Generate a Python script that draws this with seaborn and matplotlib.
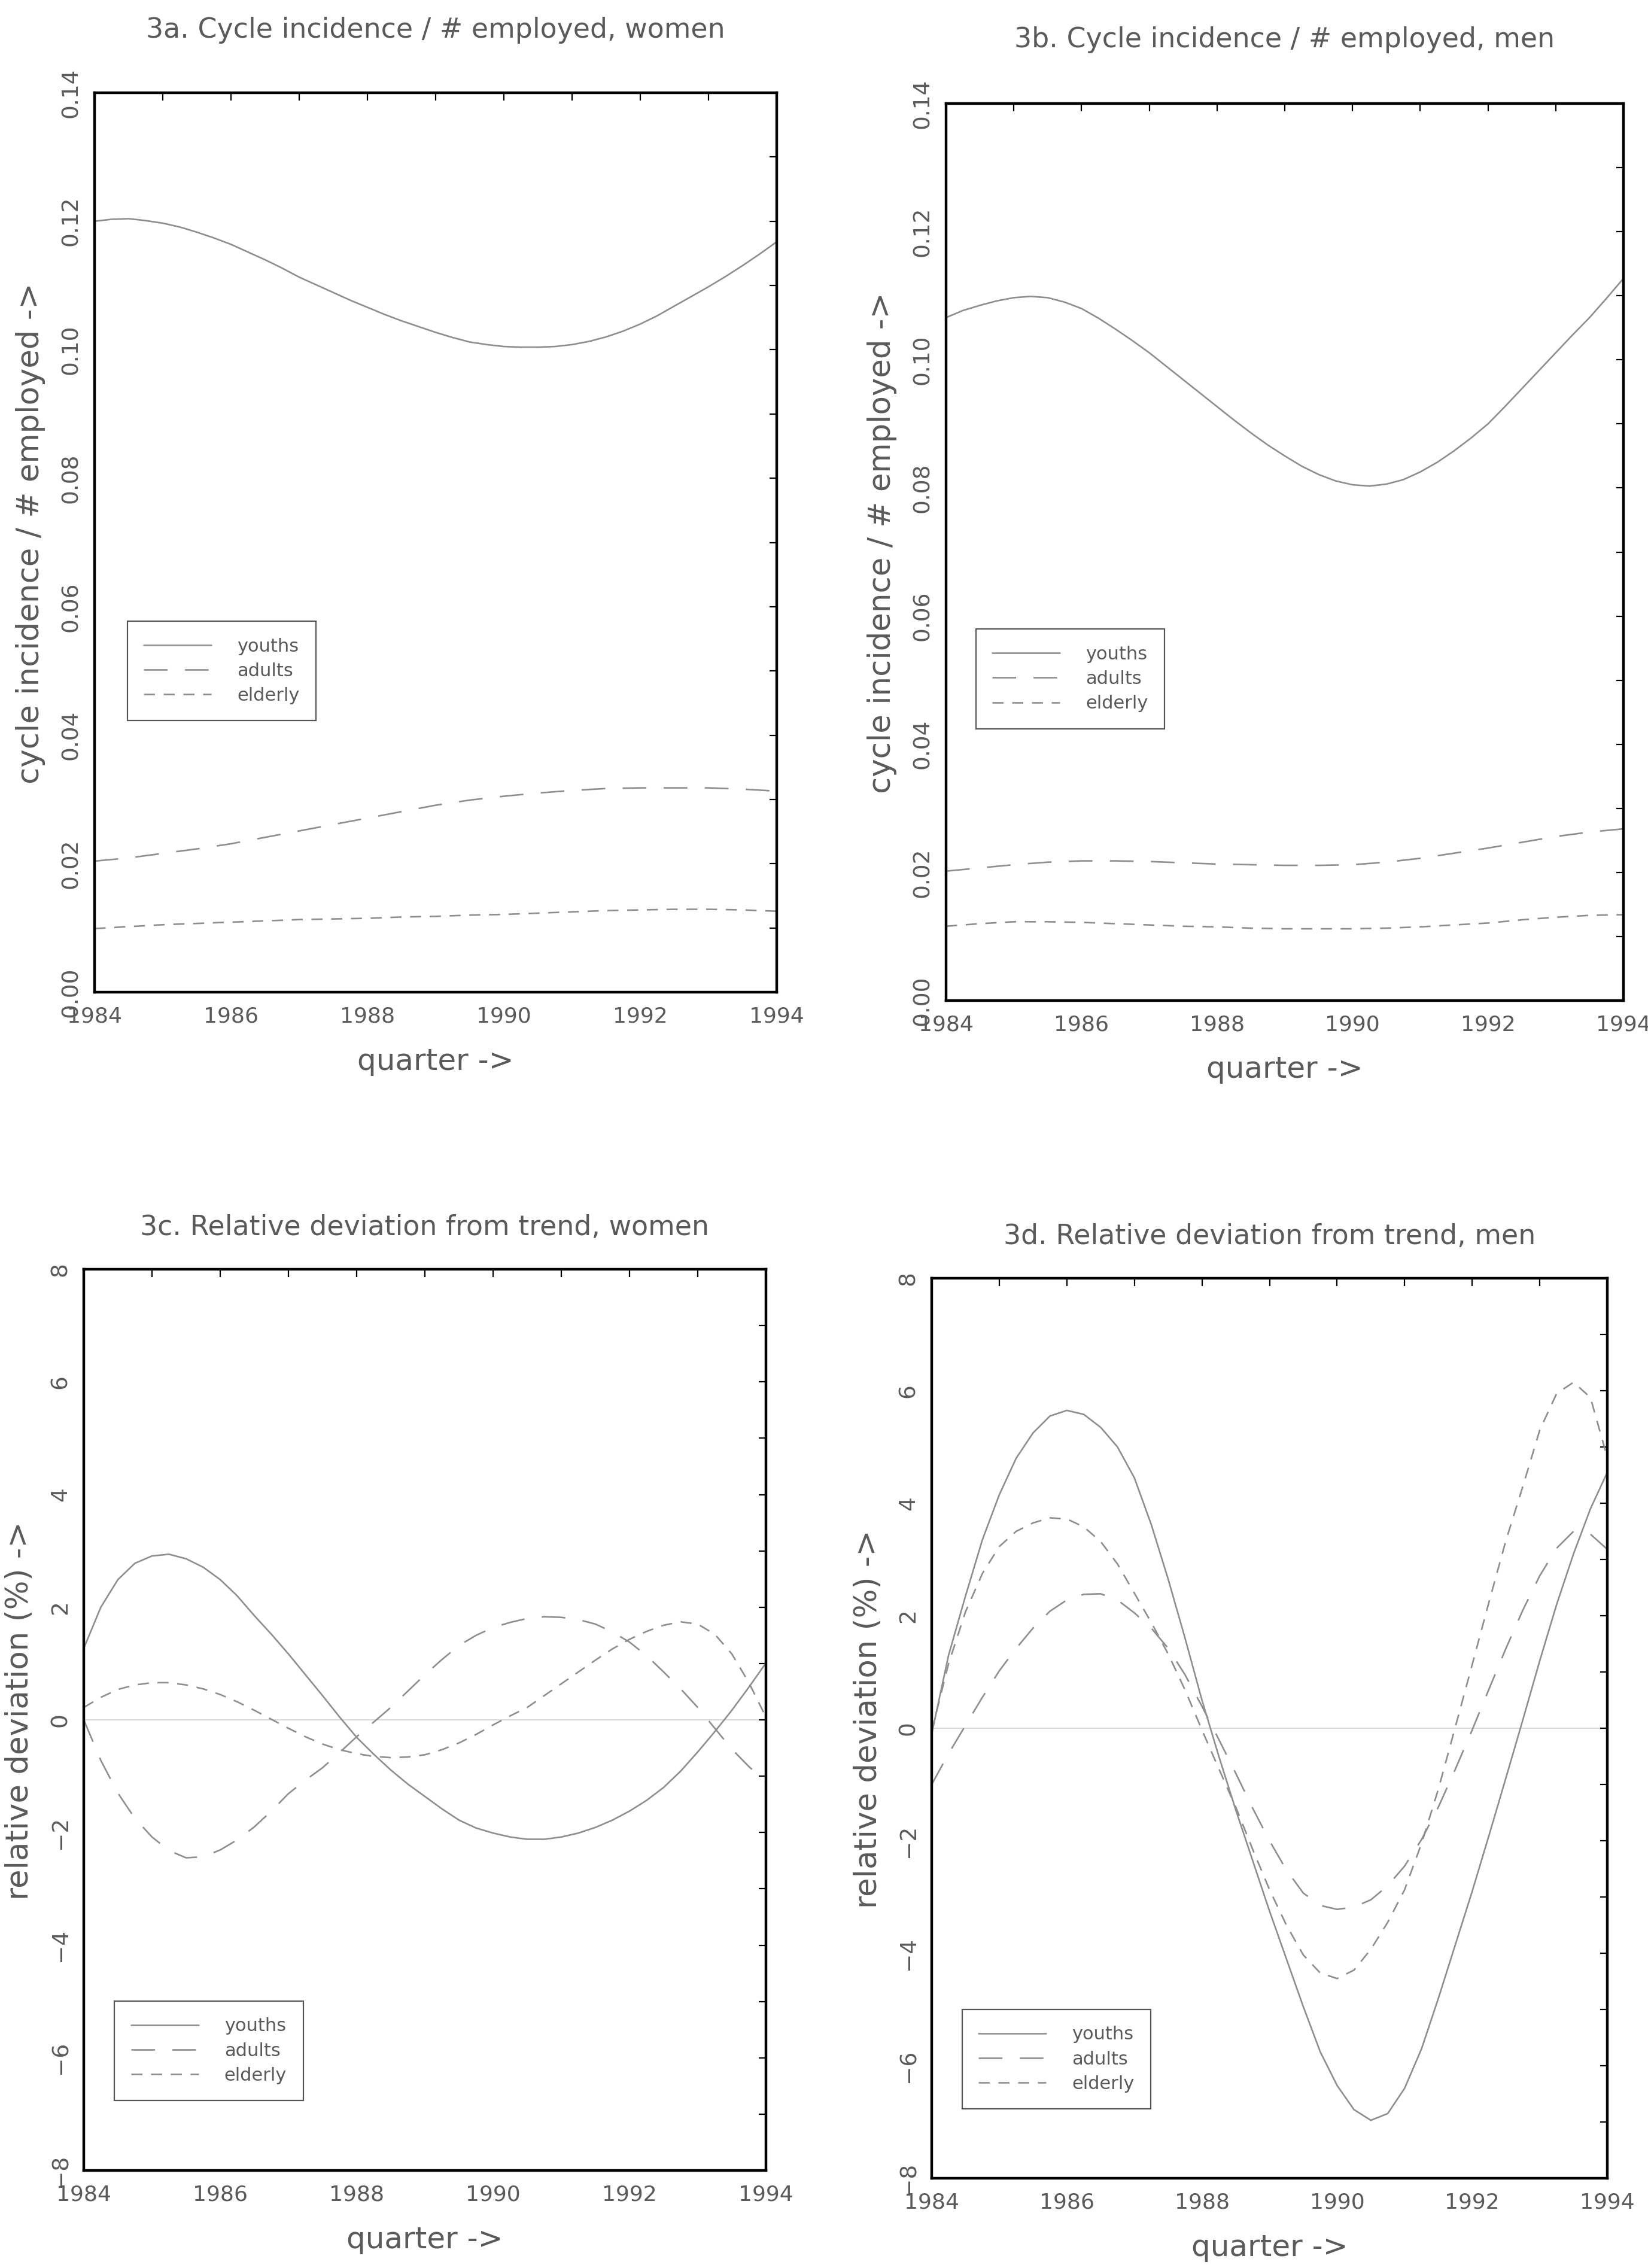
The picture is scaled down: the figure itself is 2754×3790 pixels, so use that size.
import numpy as np
import pandas as pd
import matplotlib
matplotlib.use("Agg")
import matplotlib.pyplot as plt
from matplotlib.ticker import MultipleLocator, FuncFormatter
import seaborn as sns

# ---------------- data ----------------
years_half = [1984.0, 1984.5, 1985.0, 1985.5, 1986.0, 1986.5, 1987.0, 1987.5, 1988.0, 1988.5,
              1989.0, 1989.5, 1990.0, 1990.5, 1991.0, 1991.5, 1992.0, 1992.5, 1993.0, 1993.5, 1994.0]
years_q = [1984.0, 1984.25, 1984.5, 1984.75, 1985.0, 1985.25, 1985.5, 1985.75,
           1986.0, 1986.25, 1986.5, 1986.75, 1987.0, 1987.25, 1987.5, 1987.75,
           1988.0, 1988.25, 1988.5, 1988.75, 1989.0, 1989.25, 1989.5, 1989.75,
           1990.0, 1990.25, 1990.5, 1990.75, 1991.0, 1991.25, 1991.5, 1991.75,
           1992.0, 1992.25, 1992.5, 1992.75, 1993.0, 1993.25, 1993.5, 1993.75, 1994.0]
groups = ["youths", "adults", "elderly"]

x_ticks = [1984, 1986, 1988, 1990, 1992, 1994]
inc_ticks = [0.00, 0.02, 0.04, 0.06, 0.08, 0.10, 0.12, 0.14]
dev_ticks = [-8, -6, -4, -2, 0, 2, 4, 6, 8]

# 3a: cycle incidence / # employed, women
inc_women_youths = [0.1200, 0.1203, 0.1204, 0.1201, 0.1197, 0.1191, 0.1183, 0.1174,
                    0.1164, 0.1152, 0.1140, 0.1127, 0.1113, 0.1101, 0.1089, 0.1077,
                    0.1066, 0.1055, 0.1045, 0.1036, 0.1027, 0.1019, 0.1012, 0.1008,
                    0.1005, 0.1004, 0.1004, 0.1005, 0.1008, 0.1013, 0.1020, 0.1029,
                    0.1040, 0.1053, 0.1068, 0.1083, 0.1098, 0.1114, 0.1131, 0.1149, 0.1168]
inc_women_adults = [0.0204, 0.0209, 0.0216, 0.0223, 0.0231, 0.0241, 0.0251, 0.0261, 0.0271, 0.0281,
                    0.0291, 0.0299, 0.0305, 0.0310, 0.0314, 0.0317, 0.0318, 0.0318, 0.0318, 0.0316, 0.0313]
inc_women_elderly = [0.0099, 0.0102, 0.0105, 0.0107, 0.0109, 0.0111, 0.0113, 0.0114, 0.0115, 0.0117,
                     0.0118, 0.0120, 0.0121, 0.0123, 0.0125, 0.0127, 0.0128, 0.0129, 0.0129, 0.0128, 0.0126]

# 3b: cycle incidence / # employed, men
inc_men_youths = [0.1066, 0.1077, 0.1085, 0.1092, 0.1097, 0.1099, 0.1097, 0.1090,
                  0.1080, 0.1065, 0.1048, 0.1030, 0.1011, 0.0990, 0.0969, 0.0948,
                  0.0927, 0.0906, 0.0886, 0.0867, 0.0850, 0.0834, 0.0821, 0.0811,
                  0.0805, 0.0803, 0.0806, 0.0813, 0.0825, 0.0840, 0.0858, 0.0878,
                  0.0900, 0.0927, 0.0955, 0.0983, 0.1011, 0.1039, 0.1066, 0.1096, 0.1127]
inc_men_adults = [0.0202, 0.0207, 0.0212, 0.0216, 0.0218, 0.0218, 0.0217, 0.0215, 0.0213, 0.0212,
                  0.0211, 0.0211, 0.0212, 0.0216, 0.0222, 0.0230, 0.0238, 0.0247, 0.0256, 0.0263, 0.0268]
inc_men_elderly = [0.0116, 0.0120, 0.0123, 0.0123, 0.0122, 0.0120, 0.0118, 0.0116, 0.0115, 0.0113,
                   0.0112, 0.0112, 0.0112, 0.0113, 0.0115, 0.0118, 0.0121, 0.0126, 0.0130, 0.0133, 0.0134]

# 3c: relative deviation from trend, women (%)
dev_women_youths = [1.27, 2.00, 2.49, 2.78, 2.91, 2.94, 2.86, 2.71,
                    2.49, 2.20, 1.85, 1.52, 1.17, 0.80, 0.43, 0.05,
                    -0.31, -0.61, -0.89, -1.14, -1.36, -1.58, -1.78, -1.92,
                    -2.01, -2.08, -2.12, -2.12, -2.08, -2.01, -1.91, -1.78,
                    -1.62, -1.43, -1.20, -0.91, -0.57, -0.21, 0.17, 0.58, 1.01]
dev_women_adults = [0.00, -0.72, -1.30, -1.75, -2.08, -2.32, -2.45, -2.43,
                    -2.31, -2.13, -1.90, -1.62, -1.31, -1.07, -0.85, -0.58,
                    -0.30, -0.04, 0.22, 0.51, 0.80, 1.07, 1.32, 1.50,
                    1.64, 1.73, 1.80, 1.83, 1.82, 1.78, 1.70, 1.56,
                    1.38, 1.14, 0.85, 0.55, 0.22, -0.15, -0.52, -0.83, -1.10]
dev_women_elderly = [0.22, 0.40, 0.54, 0.62, 0.66, 0.66, 0.62, 0.55,
                     0.45, 0.32, 0.17, 0.01, -0.15, -0.30, -0.43, -0.53,
                     -0.60, -0.65, -0.67, -0.66, -0.62, -0.53, -0.41, -0.26,
                     -0.09, 0.07, 0.22, 0.43, 0.64, 0.85, 1.06, 1.26,
                     1.43, 1.57, 1.68, 1.74, 1.70, 1.52, 1.17, 0.66, 0.05]

# 3d: relative deviation from trend, men (%)
dev_men_youths = [-0.10, 1.30, 2.35, 3.35, 4.15, 4.80, 5.25, 5.55,
                  5.65, 5.58, 5.35, 5.00, 4.45, 3.62, 2.65, 1.60,
                  0.50, -0.50, -1.45, -2.35, -3.25, -4.10, -4.95, -5.75,
                  -6.35, -6.78, -6.97, -6.85, -6.40, -5.70, -4.80, -3.85,
                  -2.90, -1.90, -0.88, 0.15, 1.20, 2.20, 3.10, 3.90, 4.55]
dev_men_adults = [-1.00, -0.45, 0.05, 0.55, 1.02, 1.42, 1.78, 2.08,
                  2.28, 2.38, 2.39, 2.28, 2.05, 1.78, 1.42, 0.95,
                  0.39, -0.20, -0.80, -1.42, -2.00, -2.52, -2.93, -3.15,
                  -3.22, -3.18, -3.05, -2.80, -2.45, -1.98, -1.40, -0.73,
                  -0.03, 0.70, 1.42, 2.10, 2.71, 3.20, 3.50, 3.45, 3.18]
dev_men_elderly = [-0.05, 1.15, 2.07, 2.75, 3.23, 3.50, 3.65, 3.74,
                   3.72, 3.58, 3.32, 2.92, 2.40, 1.88, 1.32, 0.68,
                   -0.03, -0.72, -1.40, -2.15, -2.87, -3.50, -4.03, -4.35,
                   -4.45, -4.30, -3.93, -3.45, -2.87, -2.05, -1.08, 0.02,
                   1.13, 2.25, 3.34, 4.30, 5.30, 5.95, 6.15, 5.88, 4.81]

titles = ["3a. Cycle incidence / # employed, women",
          "3b. Cycle incidence / # employed, men",
          "3c. Relative deviation from trend, women",
          "3d. Relative deviation from trend, men"]
ylabel_inc = "cycle incidence / # employed ->"
ylabel_dev = "relative deviation (%) ->"
xlabel = "quarter ->"

# ---------------- style ----------------
sns.set_theme(style="white")
plt.rcParams["font.family"] = ["DejaVu Sans"]
plt.rcParams["axes.unicode_minus"] = True

LINE = "#8e8e8e"
TEXT = "#5a5a5a"
W, H = 2754, 3790

fig = plt.figure(figsize=(W / 100, H / 100), dpi=100)
fig.patch.set_facecolor("white")

panels = [
    dict(rect=(158, 155, 1298, 1658), title=titles[0], ylabel=ylabel_inc,
         series=((years_q, inc_women_youths), (years_half, inc_women_adults),
                 (years_half, inc_women_elderly)),
         ylim=(0.0, 0.14), ticks=inc_ticks, minor=0.01, fmt=lambda v, p: f"{v:.2f}",
         leg=(0.048, 0.4125), tpad=66, zero=False),
    dict(rect=(1581, 173, 2713, 1672), title=titles[1], ylabel=ylabel_inc,
         series=((years_q, inc_men_youths), (years_half, inc_men_adults),
                 (years_half, inc_men_elderly)),
         ylim=(0.0, 0.14), ticks=inc_ticks, minor=0.01, fmt=lambda v, p: f"{v:.2f}",
         leg=(0.044, 0.414), tpad=68, zero=False),
    dict(rect=(140, 2121, 1280, 3627), title=titles[2], ylabel=ylabel_dev,
         series=((years_q, dev_women_youths), (years_q, dev_women_adults),
                 (years_q, dev_women_elderly)),
         ylim=(-8, 8), ticks=dev_ticks, minor=1,
         fmt=lambda v, p: f"{int(round(v))}".replace("-", "\u2212"),
         leg=(0.045, 0.188), tpad=41, zero=True),
    dict(rect=(1557, 2136, 2686, 3640), title=titles[3], ylabel=ylabel_dev,
         series=((years_q, dev_men_youths), (years_q, dev_men_adults),
                 (years_q, dev_men_elderly)),
         ylim=(-8, 8), ticks=dev_ticks, minor=1,
         fmt=lambda v, p: f"{int(round(v))}".replace("-", "\u2212"),
         leg=(0.045, 0.1875), tpad=41, zero=True),
]

dash_map = {"youths": "", "adults": (15, 11), "elderly": (7, 5.5)}
pal = {g: LINE for g in groups}

for p in panels:
    x0, y0, x1, y1 = p["rect"]
    ax = fig.add_axes([x0 / W, 1 - y1 / H, (x1 - x0) / W, (y1 - y0) / H])
    ax.set_facecolor("white")

    frames = []
    for g, (xs, ys) in zip(groups, p["series"]):
        frames.append(pd.DataFrame({"quarter": xs, "value": ys, "group": g}))
    df = pd.concat(frames, ignore_index=True)

    if p["zero"]:
        ax.axhline(0, color="#d2d2d2", lw=1.2, zorder=0)
    sns.lineplot(data=df, x="quarter", y="value", hue="group", style="group",
                 hue_order=groups, style_order=groups, palette=pal, dashes=dash_map,
                 linewidth=1.9, estimator=None, ax=ax)

    ax.set_xlim(1984, 1994)
    ax.set_ylim(*p["ylim"])
    ax.set_xticks(x_ticks)
    ax.set_xticklabels([str(t) for t in x_ticks])
    ax.xaxis.set_minor_locator(MultipleLocator(1))
    ax.set_yticks(p["ticks"])
    ax.yaxis.set_major_formatter(FuncFormatter(p["fmt"]))
    ax.yaxis.set_minor_locator(MultipleLocator(p["minor"]))

    ax.tick_params(which="both", direction="in", top=True, right=True,
                   length=9, width=1.6, color="black")
    ax.tick_params(axis="x", which="major", pad=17, labelsize=26, labelcolor=TEXT)
    ax.tick_params(axis="y", which="major", pad=15, labelsize=27, labelcolor=TEXT,
                   labelrotation=90)
    for lab in ax.get_yticklabels():
        lab.set_va("center")

    for s in ax.spines.values():
        s.set_linewidth(3.2)
        s.set_color("black")

    ax.set_title(p["title"], fontsize=33, color=TEXT, pad=p["tpad"])
    ax.set_xlabel(xlabel, fontsize=36, color=TEXT)
    ax.set_ylabel(p["ylabel"], fontsize=37, color=TEXT)
    ax.xaxis.set_label_coords(0.5, -0.061)
    ax.yaxis.set_label_coords(-0.072, 0.51)

    sns.move_legend(ax, "upper left", bbox_to_anchor=p["leg"], title=None,
                    frameon=True, fancybox=False, fontsize=22, borderaxespad=0,
                    labelspacing=0.4, borderpad=0.9, handlelength=3.7,
                    handletextpad=1.4, edgecolor="#555555", framealpha=1)
    leg = ax.get_legend()
    leg.get_frame().set_linewidth(1.6)
    for ln in leg.get_lines():
        ln.set_color(LINE)
        ln.set_linewidth(1.9)
    for t in leg.get_texts():
        t.set_color(TEXT)

fig.savefig("out.png", dpi=100, facecolor="white")
